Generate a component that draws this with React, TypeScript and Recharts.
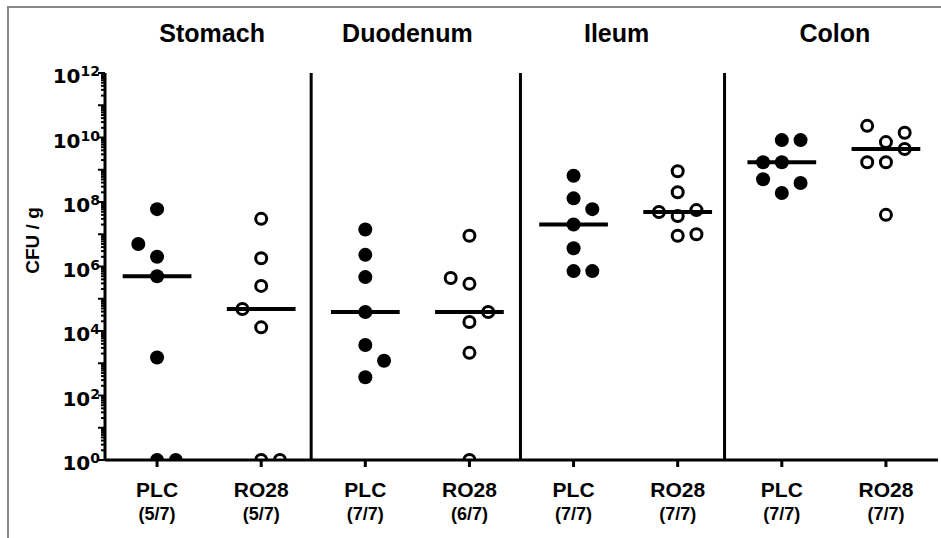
import { ScatterChart, Scatter, XAxis, YAxis, ReferenceLine } from 'recharts';

// Regions (panel titles) and treatment per column
const regions = ['Stomach', 'Duodenum', 'Ileum', 'Colon'];
const treatments = ['PLC', 'RO28'];

// CFU per gram for each mouse; undetected samples sit on 10^0
const stomachPLC = [6e7, 5e6, 2e6, 5e5, 1.5e3, 1, 1];
const stomachRO28 = [3e7, 1.8e6, 2.5e5, 4.8e4, 1.3e4, 1, 1];
const duodenumPLC = [1.4e7, 2.3e6, 4.7e5, 3.9e4, 3.7e3, 1.2e3, 3.7e2];
const duodenumRO28 = [9e6, 4.4e5, 2.9e5, 3.9e4, 1.9e4, 2.1e3, 1];
const ileumPLC = [6.5e8, 1.3e8, 6e7, 2e7, 3.7e6, 7.2e5, 7.2e5];
const ileumRO28 = [9e8, 2e8, 5.6e7, 4.9e7, 3.7e7, 1e7, 9e6];
const colonPLC = [8.3e9, 8.3e9, 1.7e9, 1.7e9, 5.1e8, 3.9e8, 1.9e8];
const colonRO28 = [2.3e10, 1.4e10, 7.2e9, 4.4e9, 1.7e9, 1.7e9, 4e7];

// which side a point is nudged to when it would overlap (-1 left, 0 centre, 1 right)
const stomachPLCSide = [0, -1, 0, 0, 0, 0, 1];
const stomachRO28Side = [0, 0, 0, -1, 0, 0, 1];
const duodenumPLCSide = [0, 0, 0, 0, 0, 1, 0];
const duodenumRO28Side = [0, -1, 0, 1, 0, 0, 0];
const ileumPLCSide = [0, 0, 1, 0, 0, 0, 1];
const ileumRO28Side = [0, 0, 1, -1, 0, 1, 0];
const colonPLCSide = [0, 1, -1, 0, -1, 1, 0];
const colonRO28Side = [-1, 1, 0, 1, -1, 0, 0];

const columns = [
  { values: stomachPLC, side: stomachPLCSide },
  { values: stomachRO28, side: stomachRO28Side },
  { values: duodenumPLC, side: duodenumPLCSide },
  { values: duodenumRO28, side: duodenumRO28Side },
  { values: ileumPLC, side: ileumPLCSide },
  { values: ileumRO28, side: ileumRO28Side },
  { values: colonPLC, side: colonPLCSide },
  { values: colonRO28, side: colonRO28Side },
];

const NUDGE = 0.18;
const MEDIAN_HALF = 0.33;
const DIVIDERS = [2.48, 4.49, 6.45];
const TITLE_DX = [3, -10, -9, 1];

const median = (vals: number[]) => {
  const s = [...vals].sort((a, b) => a - b);
  const m = Math.floor(s.length / 2);
  return s.length % 2 ? s[m] : Math.sqrt(s[m - 1] * s[m]);
};

const points = columns.map((c, i) =>
  c.values.map((v, j) => ({ x: i + 1 + c.side[j] * NUDGE, y: v }))
);
const filledPoints = points.filter((_, i) => i % 2 === 0).flat();
const openPoints = points.filter((_, i) => i % 2 === 1).flat();

const yTicks: number[] = [];
for (let e = 0; e < 12; e++) {
  for (let k = 1; k <= 9; k++) yTicks.push(k * Math.pow(10, e));
}
yTicks.push(1e12);

const bold = { fontFamily: '"Liberation Sans", Arial, sans-serif', fontWeight: 'bold' as const };

const YTick = ({ x, y, payload }: any) => {
  const lg = Math.log10(payload.value);
  const e = Math.round(lg);
  const major = Math.abs(lg - e) < 1e-6;
  return (
    <g>
      <line x1={x} x2={x - (major ? 7 : 4)} y1={y} y2={y} stroke="#000" strokeWidth={2} />
      {major && e % 2 === 0 && (
        <text
          x={x - 5}
          y={y + 10}
          textAnchor="end"
          fontFamily="DejaVu Sans"
          fontWeight="bold"
          fontSize={20}
          fill="#000"
        >
          10
          <tspan dy={-7} fontSize={14}>
            {e}
          </tspan>
        </text>
      )}
    </g>
  );
};

const XTick = ({ x, y, payload }: any) => {
  const i = Math.round(payload.value) - 1;
  const vals = columns[i].values;
  const detected = vals.filter((v) => v > 1).length;
  return (
    <g>
      <text x={x} y={y + 30} textAnchor="middle" fontSize={21} fill="#000" {...bold}>
        {treatments[i % 2]}
      </text>
      <text x={x} y={y + 53} textAnchor="middle" fontSize={18} fill="#000" {...bold}>
        ({detected}/{vals.length})
      </text>
    </g>
  );
};

const TitleLabel = ({ viewBox, index }: any) => (
  <text
    x={viewBox.x + TITLE_DX[index]}
    y={viewBox.y - 31}
    textAnchor="middle"
    fontSize={25}
    fill="#000"
    {...bold}
  >
    {regions[index]}
  </text>
);

const YLabel = ({ viewBox }: any) => {
  const cx = viewBox.x + viewBox.width - 73;
  const cy = viewBox.y + viewBox.height / 2 - 26;
  return (
    <text
      x={cx}
      y={cy}
      transform={`rotate(-90 ${cx} ${cy})`}
      textAnchor="middle"
      dominantBaseline="central"
      fontSize={19}
      fill="#000"
      {...bold}
    >
      CFU / g
    </text>
  );
};

const Filled = ({ cx, cy }: any) => <circle cx={cx} cy={cy} r={7} fill="#000" />;
const Open = ({ cx, cy }: any) => (
  <circle cx={cx} cy={cy} r={5.5} fill="none" stroke="#000" strokeWidth={3} />
);

export default function App() {
  return (
    <div style={{ position: 'absolute', left: 0, top: 0, width: 941, height: 538, background: '#fff' }}>
      <div
        style={{
          position: 'absolute',
          left: 7,
          top: 6,
          width: 934,
          height: 532,
          borderTop: '2px solid #888',
          borderLeft: '2px solid #888',
        }}
      />
      <ScatterChart width={941} height={538} margin={{ top: 73, right: 3, bottom: 0, left: 5 }}>
        <XAxis
          type="number"
          dataKey="x"
          domain={[0.5, 8.5]}
          ticks={[1, 2, 3, 4, 5, 6, 7, 8]}
          interval={0}
          height={78}
          tickSize={7}
          tickMargin={0}
          axisLine={{ stroke: '#000', strokeWidth: 3 }}
          tickLine={{ stroke: '#000', strokeWidth: 3 }}
          tick={<XTick />}
          allowDataOverflow
        />
        <YAxis
          type="number"
          dataKey="y"
          scale="log"
          domain={[1, 1e12]}
          ticks={yTicks}
          interval={0}
          width={100}
          tickSize={0}
          tickMargin={0}
          axisLine={{ stroke: '#000', strokeWidth: 3 }}
          tickLine={false}
          tick={<YTick />}
          label={<YLabel />}
          allowDataOverflow
        />
        {regions.map((r, i) => (
          <ReferenceLine
            key={r}
            x={2 * i + 1.5}
            stroke="none"
            label={<TitleLabel index={i} />}
          />
        ))}
        {DIVIDERS.map((d) => (
          <ReferenceLine key={d} x={d} stroke="#000" strokeWidth={3} />
        ))}
        {columns.map((c, i) => {
          const m = median(c.values);
          return (
            <ReferenceLine
              key={`med-${i}`}
              segment={[
                { x: i + 1 - MEDIAN_HALF, y: m },
                { x: i + 1 + MEDIAN_HALF, y: m },
              ]}
              stroke="#000"
              strokeWidth={4}
            />
          );
        })}
        <Scatter data={filledPoints} shape={<Filled />} isAnimationActive={false} />
        <Scatter data={openPoints} shape={<Open />} isAnimationActive={false} />
      </ScatterChart>
    </div>
  );
}
